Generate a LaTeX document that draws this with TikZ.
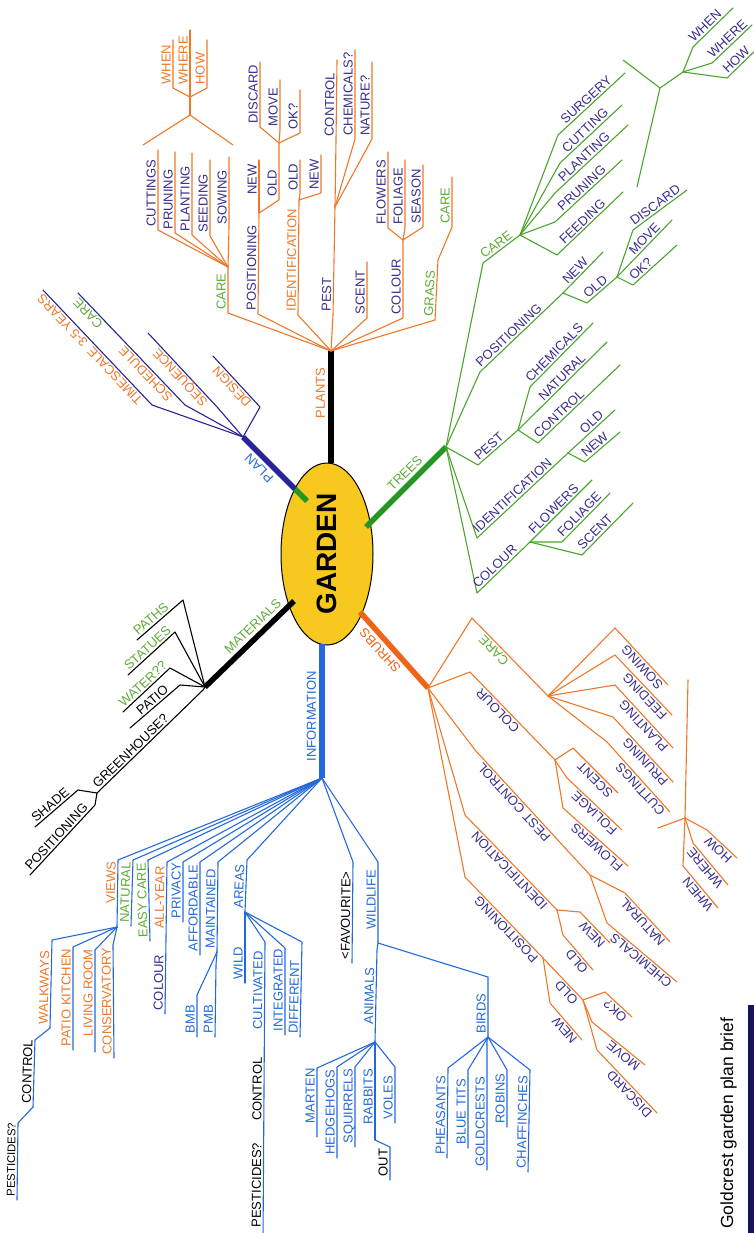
\documentclass[tikz,border=0pt]{standalone}
\usepackage{fontspec}
\newfontfamily\mapfont{Liberation Sans}
\definecolor{GdnOrange}{RGB}{238,120,40}
\definecolor{GdnNavy}{RGB}{55,45,140}
\definecolor{GdnGreen}{RGB}{75,165,45}
\definecolor{GdnLeaf}{RGB}{95,170,55}
\definecolor{GdnBlue}{RGB}{35,105,220}
\definecolor{GdnGold}{RGB}{247,200,30}
\definecolor{GdnTree}{RGB}{35,150,35}
\definecolor{GdnShrub}{RGB}{238,100,25}
\definecolor{GdnPlan}{RGB}{40,35,150}
\definecolor{GdnEdge}{RGB}{25,20,90}
\usepackage{tikz}
\usetikzlibrary{
    shapes.geometric,
    positioning,
}

\newcommand{\lblfont}{\mapfont\fontsize{13}{15}\selectfont}
\newcommand{\lblsmall}{\mapfont\fontsize{11.3}{13}\selectfont}
\newcounter{leafno}
% text read from elbow to end
\newcommand{\leaf}[6][]{%
  \stepcounter{leafno}\edef\lfname{lf\arabic{leafno}}%
  \draw (#3) -- (#4) -- (#5);
  \path (#4) -- node[lbl, text=#2, #1] (\lfname) {#6} (#5);
}
% text read from end back to elbow
\newcommand{\leafr}[6][]{%
  \stepcounter{leafno}\edef\lfname{lf\arabic{leafno}}%
  \draw (#3) -- (#4) -- (#5);
  \path (#5) -- node[lbl, text=#2, #1] (\lfname) {#6} (#4);
}

\tikzset{
  lbl/.style={font=\lblfont, sloped, allow upside down, anchor=south west,
    pos=0, inner xsep=3pt, inner ysep=1.8pt, text depth=0pt},
  trunklbl/.style={lbl, inner ysep=6pt},
  twig/.style={line width=1.1pt, line join=round, line cap=round},
  trunk/.style={line width=5.5pt},
  hub/.style={ellipse, draw=black, line width=1pt, fill=GdnGold, rotate=90,
    minimum width=182pt, minimum height=92pt, inner sep=0pt,
    font=\mapfont\bfseries\fontsize{28}{30}\selectfont},
}

\begin{document}
\begin{tikzpicture}[x=1pt, y=-1pt]
  \useasboundingbox (0,0) rectangle (754,1233);
  \clip (0,0) rectangle (754,1233);

  \node[hub] (garden) at (327,554) {GARDEN};

  % main branches
  \coordinate (P0) at (331,463);  \coordinate (P) at (331,351);
  \coordinate (L0) at (295,489);  \coordinate (L) at (243,437);
  \coordinate (T0) at (366,527);  \coordinate (T) at (446,447);
  \coordinate (S0) at (360,612);  \coordinate (S) at (428,688);
  \coordinate (M0) at (294,601);  \coordinate (M) at (205,687);
  \coordinate (I0) at (322,644);  \coordinate (I) at (322,778);

  \draw[trunk, black] (P0) -- (P);
  \draw[trunk, GdnPlan] (L0) -- (L);
  \draw[trunk, GdnTree] (L0) -- (307,501);
  \draw[trunk, GdnTree] (T0) -- (T);
  \draw[trunk, GdnShrub] (S0) -- (S);
  \draw[trunk, black] (M0) -- (M);
  \draw[trunk, GdnBlue] (I0) -- (I);

  \path (P0) -- node[trunklbl, text=GdnOrange, pos=.37] (plants) {PLANTS} (P);
  \path (L0) -- node[trunklbl, text=GdnBlue, pos=.27] (plan) {PLAN} (L);
  \path (T0) -- node[trunklbl, text=GdnLeaf, pos=.36] (trees) {TREES} (T);
  \path (S) -- node[trunklbl, text=GdnShrub, pos=.29] (shrubs) {SHRUBS} (S0);
  \path (M) -- node[trunklbl, text=GdnLeaf, pos=.3] (materials) {MATERIALS} (M0);
  \path (I) -- node[trunklbl, text=GdnBlue, pos=.1] (info) {INFORMATION} (I0);

  % plants
  \begin{scope}[twig, GdnOrange]
    \leaf{GdnLeaf}{P}{228,313}{228,267}{CARE}
    \coordinate (Pc) at (228,267);
    \leaf{GdnNavy}{Pc}{158,230}{158,150}{CUTTINGS}
    \leaf{GdnNavy}{Pc}{175,233}{175,152}{PRUNING}
    \leaf{GdnNavy}{Pc}{192,235}{192,153}{PLANTING}
    \leaf{GdnNavy}{Pc}{210,236}{210,160}{SEEDING}
    \leaf{GdnNavy}{Pc}{229,228}{229,157}{SOWING}
    \draw (143,145) -- (190,115) -- (233,145);
    \draw (190,115) -- (190,97) coordinate (Pw);
    \leaf{GdnOrange}{Pw}{173,88}{173,40}{WHEN}
    \leaf{GdnOrange}{Pw}{190,88}{190,30}{WHERE}
    \leaf{GdnOrange}{Pw}{207,88}{207,40}{HOW}
    \leaf{GdnNavy}{P}{258,314}{259,213}{POSITIONING}
    \coordinate (Pp) at (259,213);
    \leaf{GdnNavy}{Pp}{259,198}{259,160}{NEW}
    \leaf{GdnNavy}{Pp}{279,200}{279,143}{OLD}
    \coordinate (Ppo) at (279,143);
    \leaf{GdnNavy}{Ppo}{260,127}{260,62}{DISCARD}
    \leaf{GdnNavy}{Ppo}{280,130}{280,80}{MOVE}
    \leaf{GdnNavy}{Ppo}{300,133}{300,90}{OK?}
    \leaf{GdnOrange}{P}{298,315}{299,200}{IDENTIFICATION}
    \coordinate (Pi) at (299,200);
    \leaf{GdnNavy}{Pi}{300,194}{300,160}{OLD}
    \leaf{GdnNavy}{Pi}{321,193}{321,155}{NEW}
    \leaf{GdnNavy}{P}{333,315}{335,207}{PEST}
    \coordinate (Pt) at (335,207);
    \leaf{GdnNavy}{Pt}{336,140}{337,60}{CONTROL}
    \leaf{GdnNavy}{Pt}{355,139}{355,50}{CHEMICALS?}
    \leaf{GdnNavy}{Pt}{372,139}{372,62}{NATURE?}
    \leaf{GdnNavy}{P}{367,318}{367,262}{SCENT}
    \leaf{GdnNavy}{P}{403,318}{403,240}{COLOUR}
    \coordinate (Pco) at (403,240);
    \leaf{GdnNavy}{Pco}{388,228}{388,152}{FLOWERS}
    \leaf{GdnNavy}{Pco}{405,228}{405,160}{FOLIAGE}
    \leaf{GdnNavy}{Pco}{423,227}{423,165}{SEASON}
    \leaf{GdnLeaf}{P}{435,320}{438,260}{GRASS}
    \coordinate (Pg) at (438,260);
    \leaf{GdnLeaf}{Pg}{452,227}{452,177}{CARE}
  \end{scope}

  % plan
  \begin{scope}[twig, GdnPlan]
    \leaf[pos=.04]{GdnOrange}{L}{152,405}{43,290}{TIMESCALE\hspace{6pt}3-5 YEARS}
    \leaf[pos=.07]{GdnOrange}{L}{185,405}{78,293}{SCHEDULE\hspace{30pt}\textcolor{GdnLeaf}{CARE}}
    \leaf[pos=.08]{GdnOrange}{L}{218,408}{148,333}{SEQUENCE}
    \leaf[pos=.08]{GdnOrange}{L}{260,407}{213,356}{DESIGN}
  \end{scope}

  % trees
  \begin{scope}[twig, GdnGreen]
    \leaf{GdnLeaf}{T}{483,263}{520,235}{CARE}
    \coordinate (Tc) at (520,235);
    \leaf[pos=.1]{GdnNavy}{Tc}{558,135}{625,73}{SURGERY}
    \leaf[pos=.1]{GdnNavy}{Tc}{560,163}{622,105}{CUTTING}
    \leaf[pos=.1]{GdnNavy}{Tc}{555,193}{628,125}{PLANTING}
    \leaf[pos=.1]{GdnNavy}{Tc}{555,222}{622,160}{PRUNING}
    \leaf[pos=.1]{GdnNavy}{Tc}{557,255}{623,192}{FEEDING}
    \draw (623,60) -- (660,88) -- (637,187);
    \draw (660,88) -- (683,72) coordinate (Tw);
    \leaf{GdnNavy}{Tw}{693,47}{733,8}{WHEN}
    \leaf{GdnNavy}{Tw}{712,63}{752,25}{WHERE}
    \leaf{GdnNavy}{Tw}{727,78}{760,46}{HOW}
    \leaf{GdnNavy}{T}{480,372}{563,293}{POSITIONING}
    \coordinate (Tp) at (563,293);
    \leaf[pos=.1]{GdnNavy}{Tp}{563,293}{603,252}{NEW}
    \leaf{GdnNavy}{Tp}{587,303}{617,277}{OLD}
    \coordinate (Tpo) at (617,277);
    \leaf{GdnNavy}{Tpo}{633,230}{687,190}{DISCARD}
    \leaf[pos=.3]{GdnNavy}{Tpo}{617,277}{672,220}{MOVE}
    \leaf{GdnNavy}{Tpo}{633,285}{677,245}{OK?}
    \leaf{GdnNavy}{T}{478,465}{518,430}{PEST}
    \coordinate (Tt) at (518,430);
    \leaf{GdnNavy}{Tt}{530,387}{593,323}{CHEMICALS}
    \leaf[pos=.28]{GdnNavy}{Tt}{518,430}{607,342}{NATURAL}
    \leaf{GdnNavy}{Tt}{538,443}{620,365}{CONTROL}
    \leaf{GdnNavy}{T}{477,538}{568,453}{IDENTIFICATION}
    \coordinate (Ti) at (568,453);
    \leaf[pos=.33]{GdnNavy}{Ti}{568,453}{615,410}{OLD}
    \leaf{GdnNavy}{Ti}{585,462}{620,432}{NEW}
    \leaf{GdnNavy}{T}{477,593}{530,542}{COLOUR}
    \coordinate (Tco) at (530,542);
    \leaf[pos=.05]{GdnNavy}{Tco}{530,542}{592,480}{FLOWERS}
    \leaf{GdnNavy}{Tco}{562,542}{610,493}{FOLIAGE}
    \leaf{GdnNavy}{Tco}{582,555}{633,503}{SCENT}
  \end{scope}

  % shrubs
  \begin{scope}[twig, GdnOrange]
    \leafr[pos=.45]{GdnLeaf}{S}{472,618}{548,696}{CARE}
    \coordinate (Sc) at (548,696);
    \leafr{GdnNavy}{Sc}{615,628}{668,685}{SOWING}
    \leafr{GdnNavy}{Sc}{615,655}{672,715}{FEEDING}
    \leafr{GdnNavy}{Sc}{615,685}{673,748}{PLANTING}
    \leafr{GdnNavy}{Sc}{613,717}{673,782}{PRUNING}
    \leafr{GdnNavy}{Sc}{607,742}{670,812}{CUTTINGS}
    \leafr[pos=.36]{GdnNavy}{S}{470,672}{555,760}{COLOUR}
    \coordinate (Sco) at (555,760);
    \leafr{GdnNavy}{Sco}{573,748}{618,793}{SCENT}
    \leafr{GdnNavy}{Sco}{567,778}{622,830}{FOLIAGE}
    \leafr{GdnNavy}{Sco}{563,808}{628,866}{FLOWERS}
    \leafr[pos=.3]{GdnNavy}{S}{475,750}{590,875}{PEST CONTROL}
    \coordinate (Spc) at (590,875);
    \leafr{GdnNavy}{Spc}{625,893}{670,942}{NATURAL}
    \leafr{GdnNavy}{Spc}{607,923}{677,982}{CHEMICALS}
    \leafr[pos=.05]{GdnNavy}{S}{465,815}{557,910}{IDENTIFICATION}
    \coordinate (Si) at (557,910);
    \leafr{GdnNavy}{Si}{580,912}{610,943}{NEW}
    \leafr{GdnNavy}{Si}{563,935}{593,970}{OLD}
    \leafr{GdnNavy}{S}{465,877}{543,958}{POSITIONING}
    \coordinate (Sp) at (543,958);
    \leafr{GdnNavy}{Sp}{543,958}{583,1000}{OLD}
    \leafr{GdnNavy}{Sp}{550,1003}{582,1040}{NEW}
    \coordinate (Spo) at (583,1000);
    \leafr{GdnNavy}{Spo}{605,992}{632,1017}{OK?}
    \leafr{GdnNavy}{Spo}{592,1022}{645,1065}{MOVE}
    \leafr{GdnNavy}{Spo}{597,1050}{657,1113}{DISCARD}
    \draw (688,680) -- (685,818) -- (658,828);
    \coordinate (Sw) at (685,818);
    \leafr{GdnNavy}{Sw}{707,830}{737,858}{HOW}
    \leafr{GdnNavy}{Sw}{693,843}{728,885}{WHERE}
    \leafr{GdnNavy}{Sw}{683,866}{718,908}{WHEN}
  \end{scope}

  % materials
  \begin{scope}[twig, black]
    \leafr{GdnLeaf}{M}{183,600}{137,640}{PATHS}
    \leafr{GdnLeaf}{M}{175,632}{128,675}{STATUES}
    \leafr{GdnLeaf}{M}{170,668}{123,712}{WATER??}
    \leafr[pos=.2]{black}{M}{180,685}{130,728}{PATIO}
    \leafr{black}{M}{203,690}{97,793}{GREENHOUSE?}
    \coordinate (Mg) at (97,793);
    \leafr{black}{Mg}{78,790}{35,827}{SHADE}
    \leafr{black}{Mg}{95,805}{30,875}{POSITIONING}
  \end{scope}

  % information
  \begin{scope}[twig, GdnBlue]
    \leafr[pos=.3]{GdnOrange}{I}{118,860}{117,927}{VIEWS}
    \coordinate (Iv) at (117,927);
    \leafr{GdnOrange}{Iv}{52,940}{50,1028}{WALKWAYS}
    \coordinate (Iw) at (50,1028);
    \leafr{black}{Iw}{35,1040}{33,1107}{CONTROL}
    \coordinate (Iwc) at (33,1107);
    \leafr[font=\lblsmall]{black}{Iwc}{18,1123}{17,1200}{PESTICIDES?}
    \leafr{GdnOrange}{Iv}{73,947}{73,1050}{PATIO KITCHEN}
    \leafr[pos=.12]{GdnOrange}{Iv}{95,950}{95,1052}{LIVING ROOM}
    \leafr{GdnOrange}{Iv}{113,945}{114,1058}{CONSERVATORY}
    \leafr{GdnLeaf}{I}{133,860}{131,926}{NATURAL}
    \leafr{GdnLeaf}{I}{148,860}{150,941}{EASY CARE}
    \leafr{GdnNavy}{I}{167,862}{165,1014}{COLOUR\hspace{26pt}\textcolor{GdnOrange}{ALL-YEAR}}
    \leafr{GdnBlue}{I}{183,862}{183,922}{PRIVACY}
    \leafr{GdnBlue}{I}{200,862}{200,955}{AFFORDABLE}
    \leafr{GdnBlue}{I}{218,862}{217,952}{MAINTAINED}
    \coordinate (Im) at (217,952);
    \leafr{GdnBlue}{Im}{197,995}{197,1037}{BMB}
    \leafr{GdnBlue}{Im}{216,965}{215,1037}{PMB}
    \leafr{GdnBlue}{I}{247,860}{245,912}{AREAS}
    \coordinate (Ia) at (245,912);
    \leafr{GdnBlue}{Ia}{245,912}{245,983}{WILD}
    \leafr[pos=.03]{black}{Ia}{265,942}{263,1240}{PESTICIDES?\hspace{22pt}CONTROL\hspace{28pt}\textcolor{GdnBlue}{CULTIVATED}}
    \leafr{GdnBlue}{Ia}{285,948}{285,1035}{INTEGRATED}
    \leafr{GdnBlue}{Ia}{302,942}{300,1037}{DIFFERENT}
    \leafr{black}{I}{353,862}{352,963}{<FAVOURITE>}
    \leafr[pos=.12]{GdnBlue}{I}{378,862}{378,943}{WILDLIFE}
    \coordinate (Iwl) at (378,943);
    \leafr[pos=.15]{GdnBlue}{Iwl}{377,950}{375,1042}{ANIMALS}
    \coordinate (Ian) at (375,1042);
    \leafr[pos=.15]{GdnBlue}{Ian}{317,1068}{317,1137}{MARTEN}
    \leafr{GdnBlue}{Ian}{337,1067}{337,1158}{HEDGEHOGS}
    \leafr{GdnBlue}{Ian}{355,1067}{355,1147}{SQUIRRELS}
    \leafr[pos=.15]{GdnBlue}{Ian}{375,1060}{375,1140}{RABBITS}
    \coordinate (Ir) at (375,1140);
    \leafr{black}{Ir}{390,1147}{390,1180}{OUT}
    \leafr{GdnBlue}{Ian}{395,1067}{395,1123}{VOLES}
    \leafr{GdnBlue}{Iwl}{488,977}{488,1037}{BIRDS}
    \coordinate (Ib) at (488,1037);
    \leafr{GdnBlue}{Ib}{448,1068}{447,1158}{PHEASANTS}
    \leafr{GdnBlue}{Ib}{468,1070}{468,1148}{BLUE TITS}
    \leafr{GdnBlue}{Ib}{487,1040}{487,1170}{GOLDCRESTS}
    \leafr{GdnBlue}{Ib}{507,1070}{507,1127}{ROBINS}
    \leafr{GdnBlue}{Ib}{530,1070}{528,1172}{CHAFFINCHES}
  \end{scope}

  % caption and page edge
  \node[font=\mapfont\fontsize{17.5}{20}\selectfont, rotate=90, anchor=base west,
    inner sep=0pt] (caption) at (733,1229) {Goldcrest garden plan brief};
  \fill[GdnEdge] (748,1005) rectangle (754,1233);
\end{tikzpicture}
\end{document}
